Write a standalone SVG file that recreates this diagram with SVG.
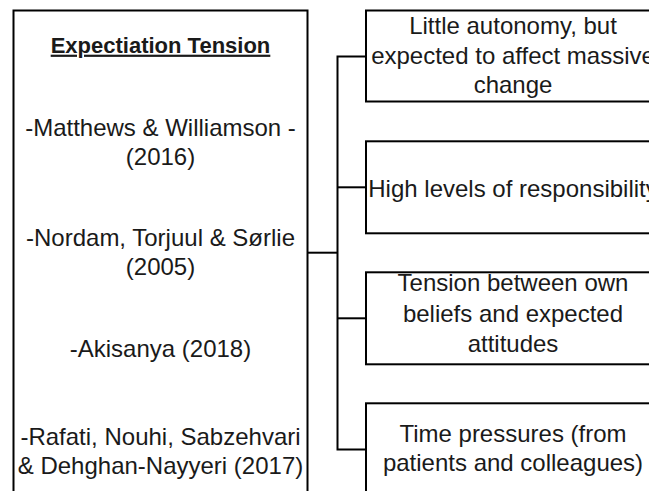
<svg xmlns="http://www.w3.org/2000/svg" width="649" height="491" viewBox="0 0 649 491">
<style>
.box{fill:#fff;stroke:#000;stroke-width:2}
.conn{fill:none;stroke:#000;stroke-width:2}
text{font-family:"Liberation Sans",Arial,sans-serif;font-size:24px;fill:#1a1a1a;text-anchor:middle}
.title{font-weight:bold;font-size:22px;text-decoration:underline}
</style>
<rect width="649" height="491" fill="#fff"/>
<g id="connectors">
<path class="conn" d="M366,56.5 H337.5 V449.5 H366"/>
<path class="conn" d="M337.5,187.3 H366"/>
<path class="conn" d="M337.5,318.3 H366"/>
<path class="conn" d="M307.5,252.7 H337.5"/>
</g>
<g id="expectation-tension">
<rect class="box" x="13.5" y="10.5" width="294" height="490"/>
<text class="title" x="160.5" y="52.7">Expectiation Tension</text>
<text x="160.5" y="136">-Matthews &amp; Williamson -</text>
<text x="160.5" y="164.5">(2016)</text>
<text x="160.5" y="246">-Nordam, Torjuul &amp; Sørlie</text>
<text x="160.5" y="275">(2005)</text>
<text x="160.5" y="357">-Akisanya (2018)</text>
<text x="160.5" y="445">-Rafati, Nouhi, Sabzehvari</text>
<text x="160.5" y="473.5">&amp; Dehghan-Nayyeri (2017)</text>
</g>
<g id="little-autonomy">
<rect class="box" x="366" y="10.5" width="294" height="91"/>
<text x="513" y="34">Little autonomy, but</text>
<text x="513" y="63.5">expected to affect massive</text>
<text x="513" y="93">change</text>
</g>
<g id="responsibility">
<rect class="box" x="366" y="141.3" width="294" height="92"/>
<text x="513" y="196.5">High levels of responsibility</text>
</g>
<g id="tension-beliefs">
<rect class="box" x="366" y="272.3" width="294" height="92"/>
<text x="513" y="291">Tension between own</text>
<text x="513" y="321.5">beliefs and expected</text>
<text x="513" y="352">attitudes</text>
</g>
<g id="time-pressures">
<rect class="box" x="366" y="403.3" width="294" height="92"/>
<text x="513" y="442">Time pressures (from</text>
<text x="513" y="470.5">patients and colleagues)</text>
</g>
</svg>
